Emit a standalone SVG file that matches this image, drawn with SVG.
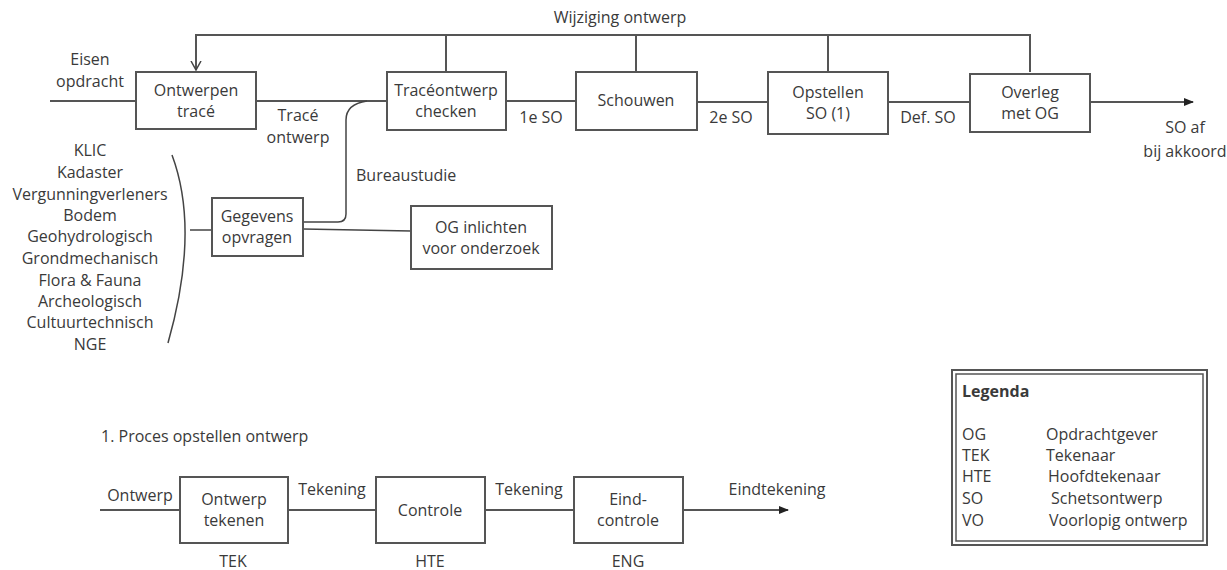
<svg xmlns="http://www.w3.org/2000/svg" width="1227" height="570" viewBox="0 0 1227 570">
<defs>
<marker id="arr" viewBox="0 0 10 10" refX="9" refY="5" markerWidth="5" markerHeight="5" orient="auto" markerUnits="strokeWidth"><path d="M0,1 L10,5 L0,9 z" fill="#222"/></marker>
<marker id="arrOpen" viewBox="0 0 10 10" refX="9" refY="5" markerWidth="5" markerHeight="6" orient="auto" markerUnits="strokeWidth"><path d="M0,0 L9,5 L0,10" fill="none" stroke="#444" stroke-width="1.5"/></marker>
</defs>
<style>
text{font-family:"Open Sans","Liberation Sans",Arial,sans-serif;font-size:16px;fill:#3a3a3a;text-anchor:middle}
.box{fill:#fff;stroke:#555;stroke-width:2}
.ln{fill:none;stroke:#555;stroke-width:2}
.thin{fill:none;stroke:#444;stroke-width:1.5}
.lg{text-anchor:start;font-size:16px}
</style>
<rect width="1227" height="570" fill="#fff"/>
<g id="connectors">
<path class="ln" d="M1030,72 V35 H196 V70" marker-end="url(#arrOpen)"/>
<path class="ln" d="M446,72 V35"/>
<path class="ln" d="M636,72 V35"/>
<path class="ln" d="M828,72 V35"/>
<path class="ln" d="M50,101 H136"/>
<path class="ln" d="M256,101 H387"/>
<path class="ln" d="M506,101 H576"/>
<path class="ln" d="M697,102 H768"/>
<path class="ln" d="M888,102 H970"/>
<path class="ln" d="M1090,102 H1193" marker-end="url(#arr)"/>
<path class="thin" d="M367,101 Q346,104 346,120 V214 Q346,222 338,222 H303"/>
<path class="thin" d="M303,229 L411,231"/>
<path class="thin" d="M172,155 Q200,230 168,343"/>
<path class="thin" d="M190,230 H212"/>
<path class="ln" d="M100,510 H180"/>
<path class="ln" d="M288,510 H376"/>
<path class="ln" d="M485,510 H574"/>
<path class="ln" d="M683,510 H788" marker-end="url(#arr)"/>
</g>
<g id="n-ontwerpen"><rect class="box" x="136" y="72" width="120" height="57"/><text x="196" y="96">Ontwerpen</text><text x="196" y="117">tracé</text></g>
<g id="n-check"><rect class="box" x="387" y="72" width="119" height="58"/><text x="446" y="96">Tracéontwerp</text><text x="446" y="117">checken</text></g>
<g id="n-schouwen"><rect class="box" x="576" y="72" width="121" height="58"/><text x="636" y="106">Schouwen</text></g>
<g id="n-opstellen"><rect class="box" x="768" y="72" width="120" height="62"/><text x="828" y="98">Opstellen</text><text x="828" y="119">SO (1)</text></g>
<g id="n-overleg"><rect class="box" x="970" y="74" width="120" height="58"/><text x="1030" y="98">Overleg</text><text x="1030" y="119">met OG</text></g>
<g id="n-gegevens"><rect class="box" x="212" y="198" width="91" height="58"/><text x="257" y="222">Gegevens</text><text x="257" y="243">opvragen</text></g>
<g id="n-oginlichten"><rect class="box" x="411" y="206" width="141" height="63"/><text x="481" y="233">OG inlichten</text><text x="481" y="254">voor onderzoek</text></g>
<g id="n-tekenen"><rect class="box" x="180" y="477" width="108" height="66"/><text x="234" y="505">Ontwerp</text><text x="234" y="526">tekenen</text></g>
<g id="n-controle"><rect class="box" x="376" y="477" width="109" height="66"/><text x="430" y="516">Controle</text></g>
<g id="n-eind"><rect class="box" x="574" y="477" width="109" height="66"/><text x="628" y="505">Eind-</text><text x="628" y="526">controle</text></g>
<g id="labels">
<text x="620" y="23">Wijziging ontwerp</text>
<text x="90" y="65">Eisen</text><text x="90" y="87">opdracht</text>
<text x="298" y="121">Tracé</text><text x="298" y="143">ontwerp</text>
<text x="541" y="123">1e SO</text>
<text x="731" y="123">2e SO</text>
<text x="928" y="123">Def. SO</text>
<text x="1185" y="133">SO af</text><text x="1185" y="157">bij akkoord</text>
<text x="356" y="181" style="text-anchor:start">Bureaustudie</text>
<text x="90" y="156">KLIC</text>
<text x="90" y="178">Kadaster</text>
<text x="90" y="200">Vergunningverleners</text>
<text x="90" y="221">Bodem</text>
<text x="90" y="242">Geohydrologisch</text>
<text x="90" y="264">Grondmechanisch</text>
<text x="90" y="286">Flora &amp; Fauna</text>
<text x="90" y="307">Archeologisch</text>
<text x="90" y="328">Cultuurtechnisch</text>
<text x="90" y="350">NGE</text>
<text x="101" y="442" style="text-anchor:start">1. Proces opstellen ontwerp</text>
<text x="140" y="501">Ontwerp</text>
<text x="332" y="495">Tekening</text>
<text x="529" y="495">Tekening</text>
<text x="777" y="495">Eindtekening</text>
<text x="233" y="567">TEK</text>
<text x="430" y="567">HTE</text>
<text x="628" y="567">ENG</text>
</g>
<g id="legend">
<rect x="952" y="370" width="255" height="175" fill="none" stroke="#555" stroke-width="2"/>
<rect x="956" y="374" width="247" height="167" fill="none" stroke="#555" stroke-width="1.5"/>
<text class="lg" x="962" y="397" style="font-weight:bold">Legenda</text>
<text class="lg" x="962" y="440">OG</text><text class="lg" x="1046" y="440">Opdrachtgever</text>
<text class="lg" x="962" y="461">TEK</text><text class="lg" x="1046" y="461">Tekenaar</text>
<text class="lg" x="962" y="482">HTE</text><text class="lg" x="1048" y="482">Hoofdtekenaar</text>
<text class="lg" x="962" y="504">SO</text><text class="lg" x="1051" y="504">Schetsontwerp</text>
<text class="lg" x="962" y="526">VO</text><text class="lg" x="1049" y="526">Voorlopig ontwerp</text>
</g>
</svg>
